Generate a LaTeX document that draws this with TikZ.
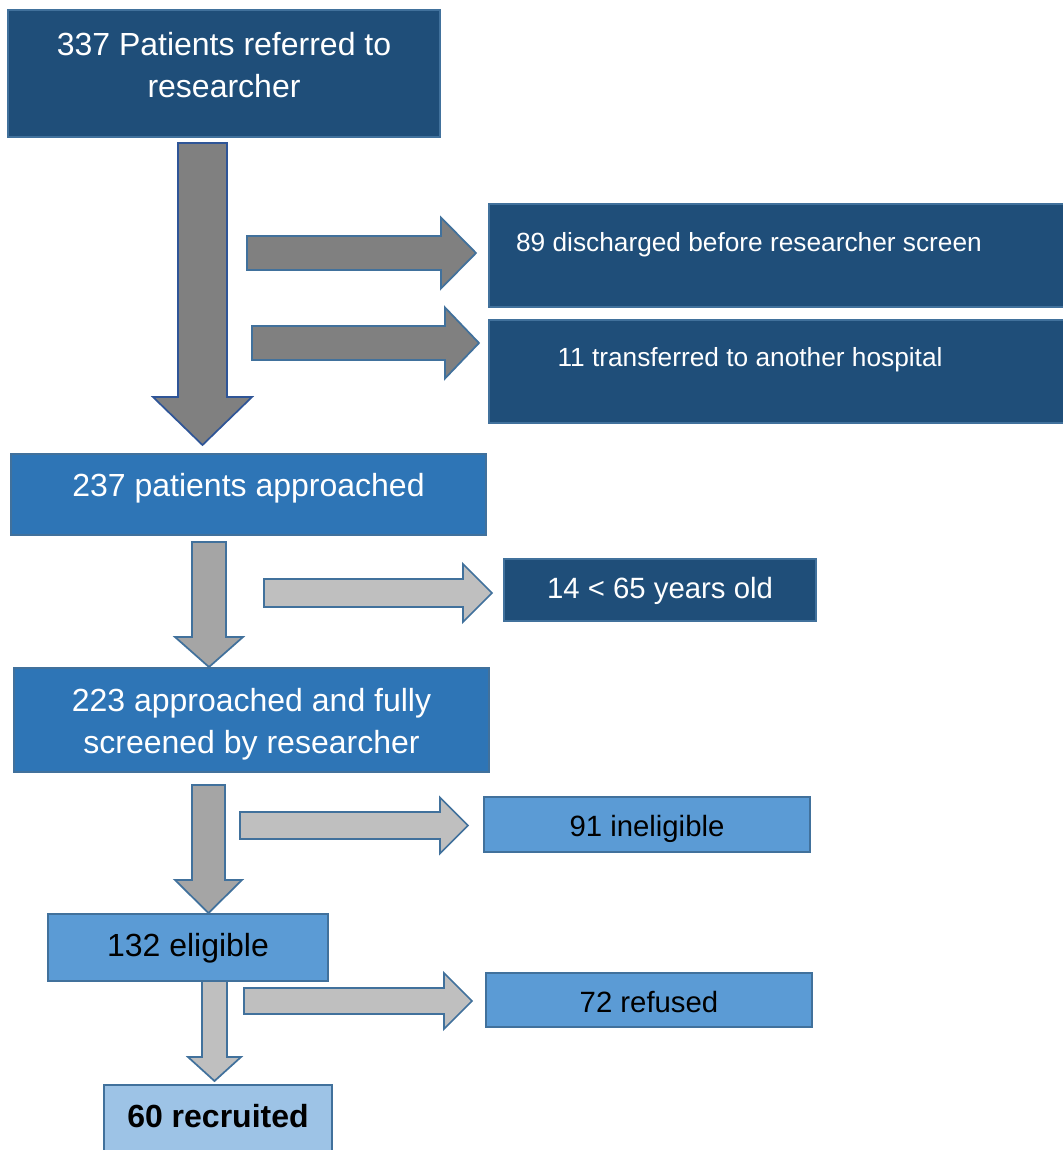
\documentclass[tikz,border=0pt]{standalone}
\usepackage{fontspec}
\setmainfont{Liberation Sans}
\usetikzlibrary{fit}
\definecolor{navy}{HTML}{1F4E79}
\definecolor{midblue}{HTML}{2E75B6}
\definecolor{skyblue}{HTML}{5B9BD5}
\definecolor{paleblue}{HTML}{9DC3E6}
\definecolor{edgeblue}{HTML}{41719C}
\definecolor{arrowedge}{HTML}{2F5597}
\definecolor{greydark}{HTML}{808080}
\definecolor{greymid}{HTML}{A5A5A5}
\definecolor{greylight}{HTML}{BFBFBF}

\tikzset{
  box/.style={draw=edgeblue, line width=1.5pt, inner sep=0pt, rectangle},
  txt/.style={inner sep=0pt, anchor=base, align=center},
  big/.style={font=\fontsize{24}{31.5}\selectfont},
  mid/.style={font=\fontsize{22}{28}\selectfont},
  small/.style={font=\fontsize{19.7}{25}\selectfont},
  blockarrow/.style={line width=1.3pt, line join=miter},
}

% block arrow pointing down: centre x, top, head base, tip, shaft half width, head half width
\newcommand\blockdown[7]{%
  \draw[blockarrow,#1] ({#2-#6},#3) -- ({#2+#6},#3) -- ({#2+#6},#4) -- ({#2+#7},#4)
    -- (#2,#5) -- ({#2-#7},#4) -- ({#2-#6},#4) -- cycle;}
% block arrow pointing right: centre y, left, head base, tip, shaft half width, head half width
\newcommand\blockright[7]{%
  \draw[blockarrow,#1] (#3,{#2-#6}) -- (#4,{#2-#6}) -- (#4,{#2-#7}) -- (#5,#2)
    -- (#4,{#2+#7}) -- (#4,{#2+#6}) -- (#3,{#2+#6}) -- cycle;}

\begin{document}
\begin{tikzpicture}[x=0.75pt,y=-0.75pt]
\useasboundingbox (0,0) rectangle (1063,1150);

% boxes
\node[box, fill=navy,     fit={(8,10) (440,137)}]     (b337) {};
\node[box, fill=navy,     fit={(489,204) (1075,307)}] (b89) {};
\node[box, fill=navy,     fit={(489,320) (1075,423)}] (b11) {};
\node[box, fill=midblue,  fit={(11,454) (486,535)}]   (b237) {};
\node[box, fill=navy,     fit={(504,559) (816,621)}]  (b14) {};
\node[box, fill=midblue,  fit={(14,668) (489,772)}]   (b223) {};
\node[box, fill=skyblue,  fit={(484,797) (810,852)}]  (b91) {};
\node[box, fill=skyblue,  fit={(48,914) (328,981)}]   (b132) {};
\node[box, fill=skyblue,  fit={(486,973) (812,1027)}] (b72) {};
\node[box, fill=paleblue, fit={(104,1085) (332,1160)}] (b60) {};

% texts
\node[txt, big, white] (t337a) at (224,55) {337 Patients referred to};
\node[txt, big, white] (t337b) at (224,97) {researcher};
\node[txt, small, white] (t89) at (749,251) {89 discharged before researcher screen};
\node[txt, small, white] (t11) at (750,366) {11 transferred to another hospital};
\node[txt, big, white] (t237) at (248.5,496) {237 patients approached};
\node[txt, mid, white] (t14) at (660,598.5) {14 < 65 years old};
\node[txt, big, white] (t223a) at (251.5,711) {223 approached and fully};
\node[txt, big, white] (t223b) at (251.5,753) {screened by researcher};
\node[txt, mid] (t91) at (647,836) {91 ineligible};
\node[txt, big] (t132) at (188,956) {132 eligible};
\node[txt, mid] (t72) at (649,1012) {72 refused};
\node[txt, big, font=\fontsize{24}{31.5}\selectfont\bfseries] (t60) at (218,1127) {60 recruited};

% flow arrows
\blockdown{fill=greydark, draw=arrowedge}{202.5}{143}{397}{445}{24.5}{49.5}
\blockright{fill=greydark, draw=edgeblue}{253}{247}{441}{476}{17}{35.5}
\blockright{fill=greydark, draw=edgeblue}{343}{252}{445}{479}{17}{35.5}

\blockdown{fill=greymid, draw=edgeblue}{209}{542}{637}{667}{17}{34}
\blockright{fill=greylight, draw=edgeblue}{593}{264}{463}{492}{14}{29}

\blockdown{fill=greymid, draw=edgeblue}{208.5}{785}{880}{913}{16.5}{33.5}
\blockright{fill=greylight, draw=edgeblue}{825.5}{240}{440}{468}{13.5}{28}

\blockdown{fill=greylight, draw=edgeblue}{214.5}{981}{1057}{1081}{12.5}{26.5}
\blockright{fill=greylight, draw=edgeblue}{1001}{244}{444}{472}{13}{28}
\end{tikzpicture}
\end{document}
